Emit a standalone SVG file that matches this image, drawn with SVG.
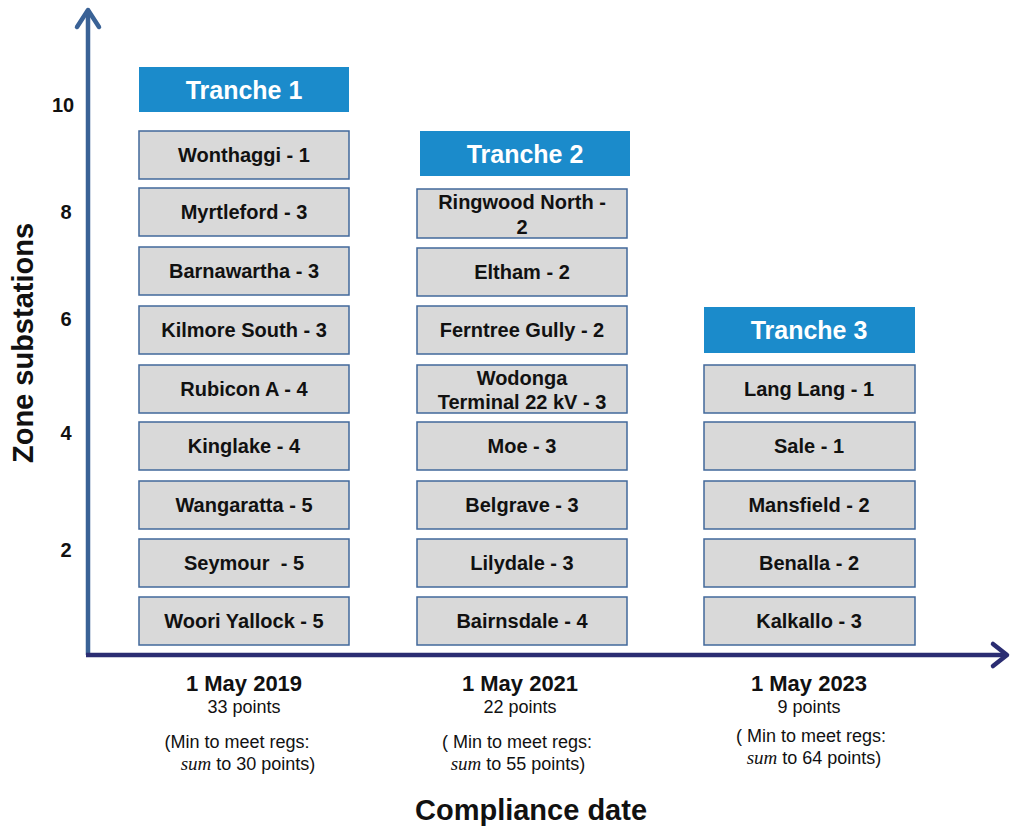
<svg xmlns="http://www.w3.org/2000/svg" width="1012" height="827" viewBox="0 0 1012 827">
<style>
.box{fill:#d9d9d9;stroke:#41689b;stroke-width:1.5}
.hdr{fill:#1b8bcb}
.bt{font-family:"Liberation Sans",Arial,sans-serif;font-weight:bold;font-size:20px;fill:#111;text-anchor:middle}
.ht{font-family:"Liberation Sans",Arial,sans-serif;font-weight:bold;font-size:25px;fill:#fff;text-anchor:middle}
.tick{font-family:"Liberation Sans",Arial,sans-serif;font-weight:bold;font-size:20px;fill:#111;text-anchor:middle}
.date{font-family:"Liberation Sans",Arial,sans-serif;font-weight:bold;font-size:22px;fill:#111;text-anchor:middle}
.pts{font-family:"Liberation Sans",Arial,sans-serif;font-size:18px;fill:#111;text-anchor:middle}
.sum{font-family:"Liberation Serif","Times New Roman",serif;font-style:italic}
.title{font-family:"Liberation Sans",Arial,sans-serif;font-weight:bold;font-size:29px;fill:#111;text-anchor:middle}
</style>
<rect width="1012" height="827" fill="#fff"/>
<g id="axes">
<line x1="88" y1="655" x2="88" y2="12" stroke="#3a6296" stroke-width="4.5"/>
<polyline points="77,27 88,10 99,27" fill="none" stroke="#3a6296" stroke-width="4.5" stroke-linecap="round" stroke-linejoin="round"/>
<line x1="86" y1="655" x2="1004" y2="655" stroke="#2b2d72" stroke-width="4.5"/>
<polyline points="993,644 1007,655 993,666" fill="none" stroke="#2b2d72" stroke-width="4.5" stroke-linecap="round" stroke-linejoin="round"/>
</g>
<g id="ticks">
<text class="tick" x="63" y="112">10</text>
<text class="tick" x="66" y="219">8</text>
<text class="tick" x="66" y="326">6</text>
<text class="tick" x="66" y="440">4</text>
<text class="tick" x="66" y="557">2</text>
</g>
<text class="title" transform="translate(33,343) rotate(-90)">Zone substations</text>
<text class="title" x="531" y="820">Compliance date</text>

<g id="tranche1">
<rect class="hdr" x="139" y="67" width="210" height="45"/>
<text class="ht" x="244" y="99">Tranche 1</text>
</g>
<g id="n-wonthaggi"><rect class="box" x="139" y="131" width="210" height="48"/><text class="bt" x="244" y="162">Wonthaggi - 1</text></g>
<g id="n-myrtleford"><rect class="box" x="139" y="188" width="210" height="48"/><text class="bt" x="244" y="219">Myrtleford - 3</text></g>
<g id="n-barnawartha"><rect class="box" x="139" y="247" width="210" height="48"/><text class="bt" x="244" y="278">Barnawartha - 3</text></g>
<g id="n-kilmore"><rect class="box" x="139" y="306" width="210" height="48"/><text class="bt" x="244" y="337">Kilmore South - 3</text></g>
<g id="n-rubicon"><rect class="box" x="139" y="365" width="210" height="48"/><text class="bt" x="244" y="396">Rubicon A - 4</text></g>
<g id="n-kinglake"><rect class="box" x="139" y="422" width="210" height="48"/><text class="bt" x="244" y="453">Kinglake - 4</text></g>
<g id="n-wangaratta"><rect class="box" x="139" y="481" width="210" height="48"/><text class="bt" x="244" y="512">Wangaratta - 5</text></g>
<g id="n-seymour"><rect class="box" x="139" y="539" width="210" height="48"/><text class="bt" x="244" y="570" xml:space="preserve">Seymour  - 5</text></g>
<g id="n-woori"><rect class="box" x="139" y="597" width="210" height="48"/><text class="bt" x="244" y="628">Woori Yallock - 5</text></g>

<g id="tranche2">
<rect class="hdr" x="420" y="131" width="210" height="45"/>
<text class="ht" x="525" y="163">Tranche 2</text>
</g>
<g id="n-ringwood"><rect class="box" x="417" y="189" width="210" height="49"/><text class="bt" x="522" y="209">Ringwood North -</text><text class="bt" x="522" y="234">2</text></g>
<g id="n-eltham"><rect class="box" x="417" y="248" width="210" height="48"/><text class="bt" x="522" y="279">Eltham - 2</text></g>
<g id="n-ferntree"><rect class="box" x="417" y="306" width="210" height="48"/><text class="bt" x="522" y="337">Ferntree Gully - 2</text></g>
<g id="n-wodonga"><rect class="box" x="417" y="365" width="210" height="48"/><text class="bt" x="522" y="385">Wodonga</text><text class="bt" x="522" y="409">Terminal 22 kV - 3</text></g>
<g id="n-moe"><rect class="box" x="417" y="422" width="210" height="48"/><text class="bt" x="522" y="453">Moe - 3</text></g>
<g id="n-belgrave"><rect class="box" x="417" y="481" width="210" height="48"/><text class="bt" x="522" y="512">Belgrave - 3</text></g>
<g id="n-lilydale"><rect class="box" x="417" y="539" width="210" height="48"/><text class="bt" x="522" y="570">Lilydale - 3</text></g>
<g id="n-bairnsdale"><rect class="box" x="417" y="597" width="210" height="48"/><text class="bt" x="522" y="628">Bairnsdale - 4</text></g>

<g id="tranche3">
<rect class="hdr" x="704" y="307" width="211" height="46"/>
<text class="ht" x="809" y="339">Tranche 3</text>
</g>
<g id="n-langlang"><rect class="box" x="704" y="365" width="211" height="48"/><text class="bt" x="809" y="396">Lang Lang - 1</text></g>
<g id="n-sale"><rect class="box" x="704" y="422" width="211" height="48"/><text class="bt" x="809" y="453">Sale - 1</text></g>
<g id="n-mansfield"><rect class="box" x="704" y="481" width="211" height="48"/><text class="bt" x="809" y="512">Mansfield - 2</text></g>
<g id="n-benalla"><rect class="box" x="704" y="539" width="211" height="48"/><text class="bt" x="809" y="570">Benalla - 2</text></g>
<g id="n-kalkallo"><rect class="box" x="704" y="597" width="211" height="48"/><text class="bt" x="809" y="628">Kalkallo - 3</text></g>

<g id="date1">
<text class="date" x="244" y="691">1 May 2019</text>
<text class="pts" x="244" y="713">33 points</text>
<text class="pts" x="237" y="748">(Min to meet regs:</text>
<text class="pts" x="248" y="770"><tspan class="sum" font-size="19">sum</tspan> to 30 points)</text>
</g>
<g id="date2">
<text class="date" x="520" y="691">1 May 2021</text>
<text class="pts" x="520" y="713">22 points</text>
<text class="pts" x="517" y="748" xml:space="preserve">( Min to meet regs:</text>
<text class="pts" x="518" y="770"><tspan class="sum" font-size="19">sum</tspan> to 55 points)</text>
</g>
<g id="date3">
<text class="date" x="809" y="691">1 May 2023</text>
<text class="pts" x="809" y="713">9 points</text>
<text class="pts" x="811" y="742" xml:space="preserve">( Min to meet regs:</text>
<text class="pts" x="814" y="764"><tspan class="sum" font-size="19">sum</tspan> to 64 points)</text>
</g>
</svg>
